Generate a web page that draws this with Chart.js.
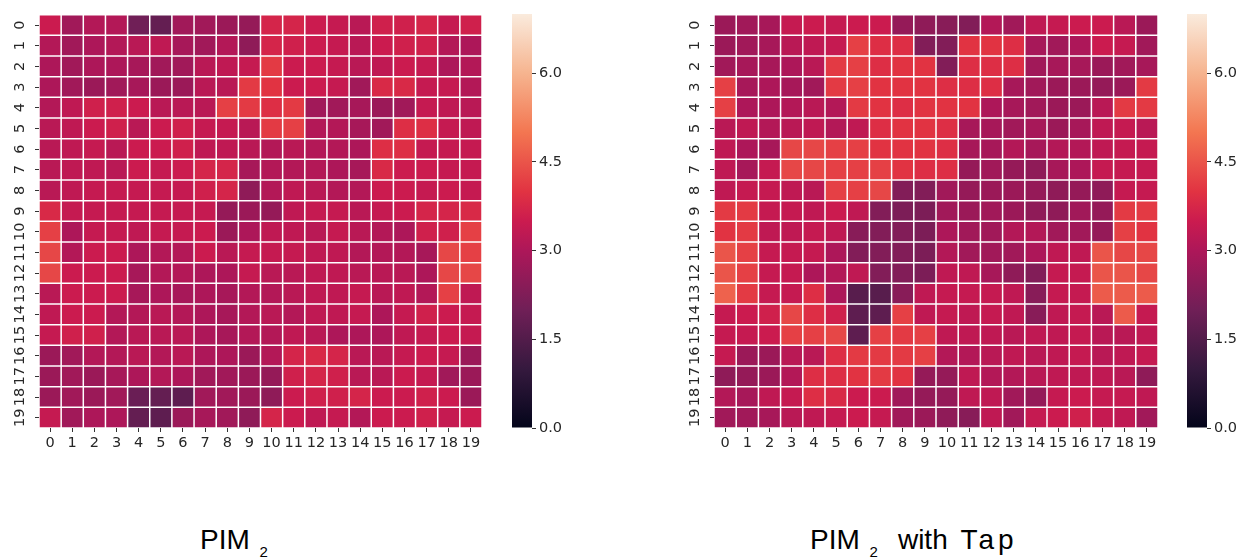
<!DOCTYPE html>
<html><head><meta charset="utf-8">
<script src="https://cdn.jsdelivr.net/npm/chart.js@4.4.1/dist/chart.umd.min.js"></script>
<style>
html,body{margin:0;padding:0;background:#fff;width:1246px;height:560px;overflow:hidden;}
canvas{position:absolute;}
.title{position:absolute;font-family:"Liberation Sans",Arial,sans-serif;font-size:28px;line-height:32px;color:#000;white-space:pre;}
.title .sub{font-size:15px;position:relative;top:8px;margin-left:2px;}
.title .rest{margin-left:20px;word-spacing:5px;}
.title .tap{letter-spacing:4px;}
</style></head><body>
<canvas id="h1" width="495" height="470" style="left:0;top:0"></canvas>
<canvas id="c1" width="90" height="440" style="left:495px;top:0"></canvas>
<canvas id="h2" width="495" height="470" style="left:675px;top:0"></canvas>
<canvas id="c2" width="76" height="440" style="left:1170px;top:0"></canvas>
<div class="title" style="left:200px;top:524px">PIM <span class="sub">2</span></div>
<div class="title" style="left:810px;top:524px">PIM <span class="sub">2</span><span class="rest">with <span class="tap">Tap</span></span></div>
<script>
const xLabels = ['0','1','2','3','4','5','6','7','8','9','10','11','12','13','14','15','16','17','18','19'];
const yLabels = ['0','1','2','3','4','5','6','7','8','9','10','11','12','13','14','15','16','17','18','19'];
const colorbarTicks = [0, 1.5, 3.0, 4.5, 6.0];
const vmin = 0, vmax = 7.0;

const pim2Values = [
 [3.5,2.8,3.1,3.1,2.0,1.8,2.8,2.8,2.7,2.6,3.7,3.7,3.5,3.4,3.2,3.6,3.6,3.7,3.4,3.6],
 [3.1,2.8,3.0,3.1,3.2,3.3,2.9,2.8,3.1,2.5,3.7,3.6,3.5,3.4,3.2,3.5,3.6,3.6,3.1,3.0],
 [3.0,2.8,3.0,3.0,2.9,2.8,2.8,3.2,3.3,3.4,4.1,3.5,3.5,3.4,3.2,3.3,3.5,3.4,3.0,3.1],
 [3.0,2.8,2.7,2.8,2.9,2.7,2.7,3.2,3.2,4.1,4.0,3.5,3.5,3.4,2.8,3.8,3.8,3.4,3.4,3.1],
 [3.1,3.3,3.6,3.6,3.5,3.2,3.2,3.2,4.2,4.1,3.9,4.1,2.8,2.8,2.9,2.7,2.8,3.4,3.3,3.2],
 [3.2,3.3,3.5,3.6,3.2,3.5,3.6,3.4,3.4,3.2,4.1,4.2,3.1,3.1,2.9,2.8,3.9,3.9,3.4,3.3],
 [3.2,3.3,3.4,3.2,3.5,3.5,3.6,3.3,3.3,3.2,3.1,3.2,3.1,3.1,3.0,3.9,3.9,3.4,3.4,3.4],
 [3.2,3.3,3.3,3.2,3.5,3.4,3.5,3.7,3.7,2.9,3.1,3.1,3.1,3.0,2.9,3.8,3.5,3.5,3.4,3.4],
 [3.2,3.3,3.4,3.4,3.4,3.4,3.4,3.6,3.7,2.5,3.1,3.3,3.2,3.1,3.1,3.5,3.5,3.4,3.5,3.4],
 [3.8,3.4,3.4,3.4,3.4,3.4,3.4,3.4,2.6,2.7,2.6,3.3,3.4,3.4,3.2,3.4,3.5,3.7,3.7,3.8],
 [4.2,3.0,3.4,3.4,3.3,3.4,3.4,3.5,2.7,3.0,3.3,3.3,3.2,3.4,3.2,3.1,3.0,3.6,3.6,4.2],
 [4.3,3.1,3.5,3.5,3.0,3.1,3.1,3.5,3.2,3.4,3.4,3.4,3.3,3.3,3.1,3.1,3.1,2.9,4.3,4.2],
 [4.3,3.5,3.5,3.5,2.9,3.1,3.1,3.0,3.0,3.4,3.2,3.2,3.3,3.3,3.2,3.2,3.2,3.0,4.3,4.3],
 [3.2,3.5,3.5,3.5,2.9,3.0,2.9,3.0,2.9,3.1,3.1,3.2,3.3,3.3,3.4,3.2,3.3,3.1,4.2,3.3],
 [3.3,3.5,3.5,3.1,3.1,3.2,3.1,3.0,2.9,3.1,3.2,3.1,3.3,3.3,3.4,3.0,3.4,3.6,3.5,3.4],
 [3.4,3.6,3.6,3.1,3.2,3.2,3.2,3.0,2.9,3.1,3.1,3.3,3.2,3.0,3.0,3.0,3.3,3.4,3.5,3.4],
 [2.7,2.8,3.1,3.1,3.2,3.1,3.2,3.0,3.0,2.7,3.1,3.7,3.8,3.7,3.2,3.2,3.4,3.5,3.4,2.7],
 [2.7,2.8,2.7,2.9,3.0,3.1,3.0,2.8,2.8,2.7,2.6,3.6,3.7,3.6,3.2,3.2,3.5,3.4,2.8,2.7],
 [2.7,2.8,2.7,2.8,1.9,1.8,1.7,2.8,2.8,2.7,2.5,3.5,3.6,3.6,3.7,3.5,3.5,3.6,3.5,2.7],
 [3.4,2.8,3.0,3.0,1.8,1.7,2.7,2.9,2.8,2.5,3.7,3.5,3.3,3.4,3.1,3.5,3.5,3.6,3.4,3.5]
];

const pim2TapValues = [
 [2.7,2.8,2.9,3.4,3.5,3.4,3.5,3.5,2.6,2.5,2.4,2.3,3.1,2.8,3.3,3.4,3.5,3.5,3.2,2.7],
 [2.7,2.8,2.9,3.2,3.3,3.4,4.2,3.9,3.9,2.3,2.3,4.0,4.0,3.9,2.9,2.8,3.0,3.5,3.4,2.8],
 [2.8,2.9,2.9,3.0,3.2,4.1,4.2,3.9,4.0,4.0,2.3,3.9,3.9,3.9,2.8,2.9,2.9,2.7,2.8,2.9],
 [4.2,2.9,3.0,2.9,2.8,4.1,4.2,4.0,4.0,4.0,3.9,3.9,3.9,2.9,2.8,2.7,2.7,2.6,2.7,4.1],
 [4.2,3.0,3.0,3.1,3.2,3.1,4.1,4.0,3.9,4.0,4.0,4.0,3.0,2.9,2.8,2.7,2.7,3.2,4.1,4.1],
 [3.2,3.3,3.1,3.2,3.3,3.1,3.3,3.9,4.0,4.0,3.9,2.9,2.9,2.8,2.9,2.7,2.9,3.3,3.4,3.2],
 [3.3,3.0,2.9,4.3,4.3,4.2,4.2,4.0,4.0,4.0,3.9,2.9,2.9,3.1,2.9,3.1,3.1,3.3,3.4,3.4],
 [3.3,2.9,3.4,4.3,4.3,4.2,4.2,4.2,4.0,3.9,3.9,2.6,2.8,2.6,2.5,2.9,3.0,3.4,3.4,3.4],
 [3.3,3.4,3.4,3.3,3.2,4.2,4.2,4.3,2.3,2.3,2.8,2.6,2.7,2.7,2.6,2.5,2.6,2.5,3.4,3.4],
 [4.1,4.1,3.4,3.4,3.3,3.5,3.3,2.3,2.2,2.2,2.8,2.7,2.8,2.7,2.5,2.5,2.8,2.6,4.1,4.1],
 [4.0,4.1,3.3,3.3,3.4,3.3,2.4,2.3,2.3,2.2,3.0,2.8,2.8,3.1,3.1,2.8,2.8,2.6,4.2,4.0],
 [4.5,4.2,3.4,3.4,3.4,3.0,2.3,2.3,2.3,2.2,3.1,2.8,2.8,2.8,3.0,3.3,3.3,4.5,4.3,4.3],
 [4.5,4.2,3.4,3.4,3.0,3.1,3.3,2.3,2.3,2.2,3.3,3.3,2.9,2.5,2.3,3.4,3.4,4.5,4.5,4.3],
 [4.7,4.1,3.4,3.4,3.9,3.0,1.6,1.6,2.4,3.3,3.4,3.4,3.4,3.3,2.4,3.4,3.4,4.6,4.6,4.6],
 [3.4,3.5,3.6,4.3,3.9,3.6,1.7,1.7,4.2,3.3,3.4,3.3,3.4,3.3,2.4,3.3,3.4,3.2,4.6,3.4],
 [3.4,3.4,3.5,4.2,4.2,4.3,1.7,4.2,4.1,4.2,3.3,3.3,3.3,3.2,3.3,3.3,3.4,3.2,3.2,3.3],
 [3.4,2.7,2.7,3.2,3.2,3.9,4.1,4.1,4.1,4.2,3.1,3.1,3.2,3.3,3.2,3.3,3.4,3.2,3.3,3.4],
 [2.5,2.6,2.7,3.1,3.9,3.9,4.0,4.1,4.0,2.6,2.6,3.3,3.1,3.1,3.2,3.3,3.3,3.3,3.2,2.5],
 [3.1,2.9,3.3,3.4,3.9,3.8,3.5,3.5,2.8,2.6,2.6,3.3,3.3,2.8,2.6,3.4,3.5,3.4,3.4,3.3],
 [2.8,2.8,2.9,3.2,3.3,3.4,3.5,3.4,2.8,2.7,2.5,2.4,3.3,2.8,3.4,3.5,3.6,3.4,3.3,2.8]
];

// seaborn "rocket" colormap stops
const rocketStops = [[0,'#03051a'],[1/7,'#35193e'],[2/7,'#701f57'],[3/7,'#ad1759'],[0.5,'#cb1b4f'],[4/7,'#e13342'],[5/7,'#f37651'],[6/7,'#f6b48f'],[1,'#faebdd']];
function hexRgb(h){return [parseInt(h.slice(1,3),16),parseInt(h.slice(3,5),16),parseInt(h.slice(5,7),16)];}
function rocket(t){
  t = Math.max(0, Math.min(1, t));
  for (let i = 1; i < rocketStops.length; i++) {
    const [t1, c1] = rocketStops[i];
    if (t <= t1) {
      const [t0, c0] = rocketStops[i-1];
      const f = (t - t0) / (t1 - t0);
      const a = hexRgb(c0), b = hexRgb(c1);
      return 'rgb(' + a.map((v,k)=>Math.round(v + (b[k]-v)*f)).join(',') + ')';
    }
  }
  return rocketStops[rocketStops.length-1][1];
}

const tickFont = {family:'"DejaVu Sans", sans-serif', size:14.5};
const textColor = '#262626';

function heatmap(id, values, rightPad){
  const datasets = values.map((row, r) => ({
    data: row.map(() => [r, r + 1]),
    backgroundColor: row.map(v => rocket((v - vmin) / (vmax - vmin))),
    borderColor: '#ffffff',
    borderWidth: 0.75,
    borderSkipped: false,
    barPercentage: 1,
    categoryPercentage: 1,
    grouped: false,
    inflateAmount: 0
  }));
  new Chart(document.getElementById(id), {
    type: 'bar',
    data: {labels: xLabels, datasets},
    options: {
      responsive: false, animation: false, devicePixelRatio: 1,
      layout: {padding: {left: 0, top: 14, right: rightPad, bottom: 0}},
      plugins: {legend: {display: false}, tooltip: {enabled: false}},
      scales: {
        x: {
          type: 'category', offset: true,
          grid: {offset: false, drawOnChartArea: false, drawTicks: true, tickLength: 4, color: '#333'},
          border: {display: false},
          ticks: {color: textColor, font: tickFont, padding: 3, autoSkip: false, minRotation: 0, maxRotation: 0},
          afterFit: s => { s.height = 42; }
        },
        y: {
          type: 'linear', min: 0, max: 20, reverse: true,
          afterBuildTicks: s => { s.ticks = yLabels.map((l, i) => ({value: i + 0.5})); },
          grid: {drawOnChartArea: false, drawTicks: true, tickLength: 4, color: '#333'},
          border: {display: false},
          ticks: {callback: (v, i) => yLabels[i], autoSkip: false, minRotation: 90, maxRotation: 90, crossAlign: 'center', padding: 6, color: textColor, font: tickFont},
          afterFit: s => { s.width = 39; }
        }
      }
    }
  });
}

function colorbar(id, axisWidth){
  new Chart(document.getElementById(id), {
    type: 'bar',
    data: {labels: [''], datasets: [{
      data: [[vmin, vmax]],
      backgroundColor: ctx => {
        const a = ctx.chart.chartArea;
        if (!a) return '#ad1759';
        const g = ctx.chart.ctx.createLinearGradient(0, a.bottom, 0, a.top);
        rocketStops.forEach(([t, c]) => g.addColorStop(t, c));
        return g;
      },
      borderWidth: 0, barPercentage: 1, categoryPercentage: 1, inflateAmount: 0
    }]},
    options: {
      responsive: false, animation: false, devicePixelRatio: 1,
      layout: {padding: {left: 17, top: 14, right: 0, bottom: 12}},
      plugins: {legend: {display: false}, tooltip: {enabled: false}},
      scales: {
        x: {display: false},
        y: {
          position: 'right', min: vmin, max: vmax,
          afterBuildTicks: s => { s.ticks = colorbarTicks.map(v => ({value: v})); },
          grid: {drawOnChartArea: false, drawTicks: true, tickLength: 4, color: '#333'},
          border: {display: false},
          ticks: {callback: v => v.toFixed(1), color: textColor, font: tickFont, padding: 3},
          afterFit: s => { s.width = axisWidth; }
        }
      }
    }
  });
}

heatmap('h1', pim2Values, 13);
colorbar('c1', 53);
heatmap('h2', pim2TapValues, 12);
colorbar('c2', 39);
</script>
</body></html>
